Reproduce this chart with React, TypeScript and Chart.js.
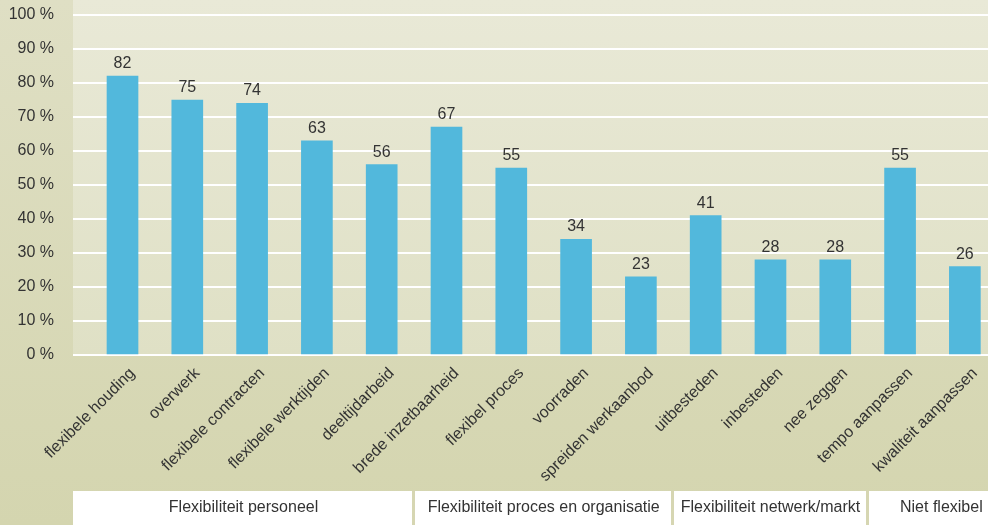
import React, { useEffect, useRef } from "react";
import { Chart, registerables } from "chart.js";

Chart.register(...registerables);

const categories = [
  "flexibele houding",
  "overwerk",
  "flexibele contracten",
  "flexibele werktijden",
  "deeltijdarbeid",
  "brede inzetbaarheid",
  "flexibel proces",
  "voorraden",
  "spreiden werkaanbod",
  "uitbesteden",
  "inbesteden",
  "nee zeggen",
  "tempo aanpassen",
  "kwaliteit aanpassen",
];
const values = [82, 75, 74, 63, 56, 67, 55, 34, 23, 41, 28, 28, 55, 26];
const groupLabels = [
  "Flexibiliteit personeel",
  "Flexibiliteit proces en organisatie",
  "Flexibiliteit netwerk/markt",
  "Niet flexibel",
];
const groupSizes = [5, 4, 3, 2];
const yTicks = [0, 10, 20, 30, 40, 50, 60, 70, 80, 90, 100];

const FONT = "'Liberation Sans', Arial, sans-serif";
const TEXT = "#333333";

const bgPlugin = {
  id: "bgPlugin",
  beforeDraw(chart: any) {
    const { ctx, width, height, chartArea } = chart;
    ctx.save();
    const g = ctx.createLinearGradient(0, 0, 0, height);
    g.addColorStop(0, "#dfdfc4");
    g.addColorStop(1, "#d4d5af");
    ctx.fillStyle = g;
    ctx.fillRect(0, 0, width, height);
    const g2 = ctx.createLinearGradient(0, 0, 0, chartArea.bottom);
    g2.addColorStop(0, "#e9e9d7");
    g2.addColorStop(1, "#dfe0c5");
    ctx.fillStyle = g2;
    ctx.fillRect(chartArea.left, 0, chartArea.right - chartArea.left, chartArea.bottom + 1);
    ctx.restore();
  },
  afterDatasetsDraw(chart: any) {
    const { ctx } = chart;
    const meta = chart.getDatasetMeta(0);
    ctx.save();
    ctx.font = `16px ${FONT}`;
    ctx.fillStyle = TEXT;
    ctx.textAlign = "center";
    ctx.textBaseline = "alphabetic";
    meta.data.forEach((bar: any, i: number) => {
      ctx.fillText(String(values[i]), bar.x, bar.y - 8);
    });
    ctx.restore();
  },
  afterDraw(chart: any) {
    const { ctx, chartArea, height } = chart;
    const xs = chart.scales.x;
    const top = 491;
    ctx.save();
    ctx.fillStyle = "#ffffff";
    ctx.fillRect(chartArea.left, top, chartArea.right - chartArea.left, height - top);
    let start = 0;
    const bounds: number[] = [chartArea.left];
    groupSizes.forEach((n, gi) => {
      start += n;
      if (gi < groupSizes.length - 1) {
        const px = xs.getPixelForValue(start - 0.5);
        bounds.push(px);
      }
    });
    bounds.push(chartArea.right + 27);
    ctx.fillStyle = "#d6d6b2";
    for (let i = 1; i < bounds.length - 1; i++) {
      ctx.fillRect(Math.round(bounds[i]) - 2, top, 3, height - top);
    }
    ctx.font = `16px ${FONT}`;
    ctx.fillStyle = TEXT;
    ctx.textAlign = "center";
    ctx.textBaseline = "middle";
    groupLabels.forEach((lab, i) => {
      ctx.fillText(lab, (bounds[i] + bounds[i + 1]) / 2, 508);
    });
    ctx.restore();
  },
};

export default function App() {
  const ref = useRef<HTMLCanvasElement | null>(null);
  useEffect(() => {
    document.body.style.margin = "0";
    const canvas = ref.current;
    if (!canvas) return;
    const chart = new Chart(canvas, {
      type: "bar",
      data: {
        datasets: [
          {
            data: categories.map((c, i) => ({ x: i, y: values[i] })),
            backgroundColor: "#52b8dc",
            borderWidth: 0,
            barThickness: 31,
          },
        ],
      },
      options: {
        responsive: false,
        animation: false,
        devicePixelRatio: 1,
        layout: { padding: { top: 15, left: 0, right: 0, bottom: 0 } },
        plugins: {
          legend: { display: false },
          tooltip: { enabled: false },
        },
        scales: {
          x: {
            type: "linear",
            offset: false,
            min: -0.764,
            max: 13.357,
            grid: { display: false },
            border: { display: false },
            afterBuildTicks: (scale: any) => {
              scale.ticks = categories.map((_, i) => ({ value: i }));
            },
            afterFit: (scale: any) => {
              scale.height = 170;
            },
            ticks: {
              autoSkip: false,
              minRotation: 45,
              maxRotation: 45,
              padding: 1,
              labelOffset: 10,
              color: TEXT,
              font: { family: FONT, size: 16 },
              callback: (v: any) => categories[Math.round(Number(v))] ?? "",
            },
          },
          y: {
            min: 0,
            max: 100,
            grid: {
              color: "#ffffff",
              lineWidth: 2,
              drawTicks: true,
              tickLength: 19,
              tickColor: "rgba(0,0,0,0)",
            },
            border: { display: false },
            afterBuildTicks: (scale: any) => {
              scale.ticks = yTicks.map((v) => ({ value: v }));
            },
            afterFit: (scale: any) => {
              scale.width = 73;
            },
            ticks: {
              padding: 0,
              color: TEXT,
              font: { family: FONT, size: 16 },
              callback: (v: any) => `${v} %`,
            },
          },
        },
      },
      plugins: [bgPlugin],
    });
    return () => chart.destroy();
  }, []);
  return (
    <canvas
      ref={ref}
      width={988}
      height={525}
      style={{ display: "block", width: 988, height: 525 }}
    />
  );
}
